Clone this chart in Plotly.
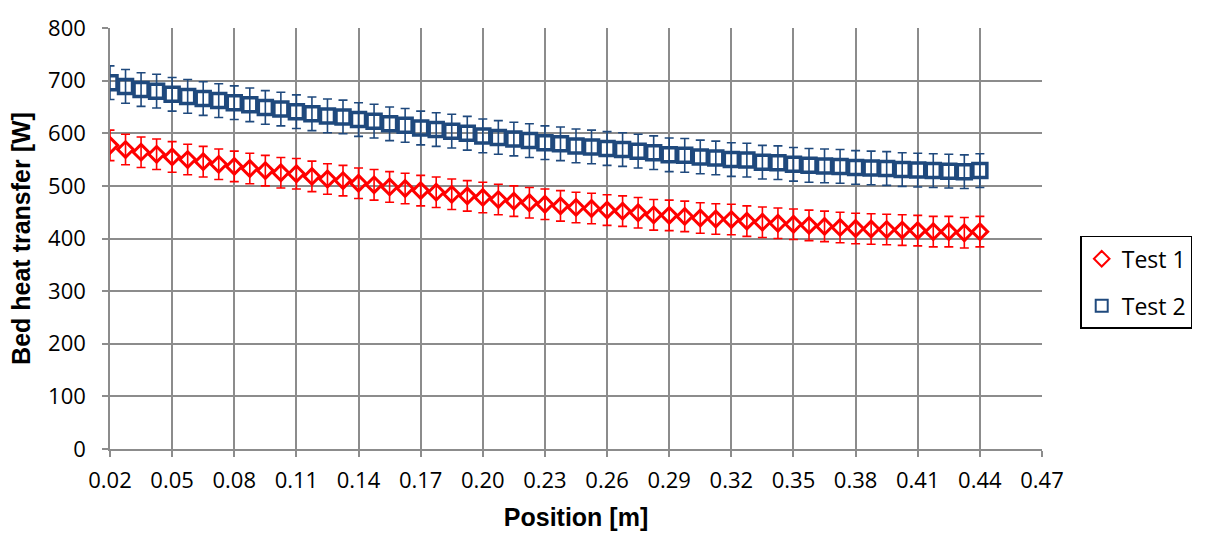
import plotly.graph_objects as go

# Measurement positions along the bed [m]
position = [
    0.0200, 0.0275, 0.0350, 0.0425, 0.0500, 0.0575, 0.0650, 0.0725, 0.0800, 0.0875,
    0.0950, 0.1025, 0.1100, 0.1175, 0.1250, 0.1325, 0.1400, 0.1475, 0.1550, 0.1625,
    0.1700, 0.1775, 0.1850, 0.1925, 0.2000, 0.2075, 0.2150, 0.2225, 0.2300, 0.2375,
    0.2450, 0.2525, 0.2600, 0.2675, 0.2750, 0.2825, 0.2900, 0.2975, 0.3050, 0.3125,
    0.3200, 0.3275, 0.3350, 0.3425, 0.3500, 0.3575, 0.3650, 0.3725, 0.3800, 0.3875,
    0.3950, 0.4025, 0.4100, 0.4175, 0.4250, 0.4325, 0.4400,
]

# Bed heat transfer [W]
test1 = [
    577, 569, 564, 560, 555, 550, 546, 541, 537, 533,
    529, 525, 523, 518, 513, 510, 505, 502, 498, 495,
    491, 488, 484, 481, 478, 474, 471, 468, 465, 462,
    459, 457, 454, 452, 449, 445, 444, 442, 439, 437,
    436, 433, 431, 429, 427, 425, 423, 421, 419, 418,
    417, 416, 415, 413, 413, 411, 413,
]
test2 = [
    696, 689, 683, 680, 674, 670, 666, 662, 658, 654,
    649, 646, 641, 637, 633, 631, 626, 623, 618, 615,
    610, 607, 604, 600, 595, 592, 589, 586, 582, 580,
    576, 574, 571, 569, 566, 563, 559, 558, 555, 553,
    550, 549, 545, 544, 541, 539, 538, 537, 535, 534,
    533, 531, 530, 529, 528, 527, 529,
]

# Measurement uncertainty [W]
test1_err = 29
test2_err = 32

x_ticks = [0.02, 0.05, 0.08, 0.11, 0.14, 0.17, 0.20, 0.23, 0.26, 0.29,
           0.32, 0.35, 0.38, 0.41, 0.44, 0.47]
y_ticks = [0, 100, 200, 300, 400, 500, 600, 700, 800]

RED = "#FF0000"
BLUE = "#1F497D"
GRID = "#8C8C8C"

fig = go.Figure()
fig.add_trace(go.Scatter(
    x=position, y=test1, name="Test 1", mode="markers", legendgroup="t1",
    marker=dict(symbol="diamond-open", size=12, color=RED, line=dict(width=3, color=RED)),
    error_y=dict(type="constant", value=test1_err, color=RED, thickness=1.6, width=4.5),
))
fig.add_trace(go.Scatter(
    x=position, y=test2, name="Test 2", mode="markers", legendgroup="t2",
    marker=dict(symbol="square-open", size=14, color=BLUE, line=dict(width=3.5, color=BLUE)),
    error_y=dict(type="constant", value=test2_err, color=BLUE, thickness=1.6, width=4.5),
))

tick_font = dict(family="Open Sans, sans-serif", size=22, color="black")
title_font = dict(family="Liberation Sans, Arial, sans-serif", size=25, color="black")

fig.update_layout(
    width=1205, height=539,
    margin=dict(l=110, r=163, t=19, b=88),
    paper_bgcolor="white", plot_bgcolor="white",
    showlegend=True,
    legend=dict(
        x=1.041, xanchor="left", y=0.396, yanchor="middle",
        bordercolor="black", borderwidth=1.5, bgcolor="white",
        font=dict(family="Open Sans, sans-serif", size=23, color="black"),
        itemsizing="constant", tracegroupgap=14, itemwidth=30,
    ),
)
fig.update_xaxes(
    range=[0.02, 0.47], tickvals=x_ticks,
    ticktext=[f"{v:.2f}" for v in x_ticks],
    showgrid=True, gridcolor=GRID, gridwidth=1.5,
    showline=True, linecolor=GRID, linewidth=1.5,
    ticks="outside", ticklen=6, tickcolor=GRID, tickwidth=1.5,
    ticklabelstandoff=5,
    tickfont=tick_font, zeroline=False,
    title=dict(text="<b>Position [m]</b>", font=title_font, standoff=15),
)
fig.update_yaxes(
    range=[0, 800], tickvals=y_ticks,
    showgrid=True, gridcolor=GRID, gridwidth=1.5,
    showline=True, linecolor=GRID, linewidth=1.5,
    ticks="outside", ticklen=6, tickcolor=GRID, tickwidth=1.5,
    ticklabelstandoff=12,
    tickfont=tick_font, zeroline=False,
    title=dict(text="<b>Bed heat transfer [W]</b>", font=title_font, standoff=10),
)

fig.write_html("out.html")
